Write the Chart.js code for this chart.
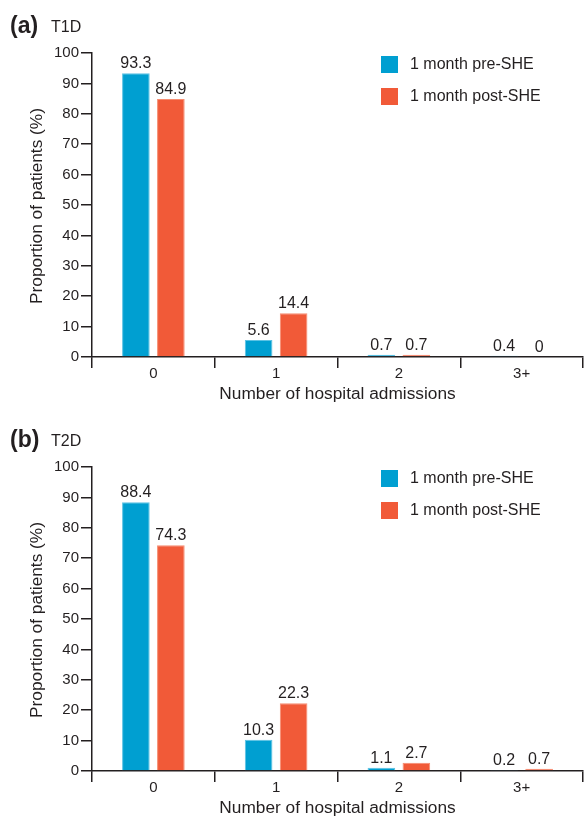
<!DOCTYPE html>
<html>
<head>
<meta charset="utf-8">
<script src="https://cdn.jsdelivr.net/npm/chart.js@4.4.1/dist/chart.umd.min.js"></script>
<style>
  html, body { margin: 0; padding: 0; background: #fff; }
  .panel { position: absolute; left: 0; width: 584px; }
  #p1 { top: 0; height: 414px; }
  #p2 { top: 414px; height: 404px; }
</style>
</head>
<body>
<div class="panel" id="p1"><canvas id="chartA"></canvas></div>
<div class="panel" id="p2"><canvas id="chartB"></canvas></div>
<script>
// data
const categories = ['0', '1', '2', '3+'];
const t1dPre = [93.3, 5.6, 0.7, 0.4];
const t1dPost = [84.9, 14.4, 0.7, 0];
const t2dPre = [88.4, 10.3, 1.1, 0.2];
const t2dPost = [74.3, 22.3, 2.7, 0.7];
const seriesNames = ['1 month pre-SHE', '1 month post-SHE'];

const BLUE = '#009fd1';
const RED = '#f15a38';
const INK = '#231f20';
const FONT = '"Liberation Sans", Arial, Helvetica, sans-serif';

// panel letter, legend, axis titles and value labels
const decorPlugin = {
    id: 'decor',
    afterDatasetsDraw(chart, args, opts) {
        const c = chart.ctx;
        const area = chart.chartArea;
        c.save();
        c.fillStyle = INK;

        // value labels above bars
        c.font = '16px ' + FONT;
        c.textAlign = 'center';
        c.textBaseline = 'alphabetic';
        chart.data.datasets.forEach((ds, i) => {
            chart.getDatasetMeta(i).data.forEach((bar, j) => {
                c.fillText(String(ds.data[j]), bar.x, bar.y - 5);
            });
        });

        // panel letter + group
        c.textAlign = 'left';
        c.font = 'bold 23px ' + FONT;
        c.fillText(opts.letter, 10, area.top - 20);
        c.font = '16px ' + FONT;
        c.fillText(opts.group, 51, area.top - 21);

        // legend
        chart.data.datasets.forEach((ds, i) => {
            const y = area.top + 3 + i * 32;
            c.fillStyle = ds.backgroundColor;
            c.fillRect(381, y, 17, 17);
            c.fillStyle = INK;
            c.font = '16px ' + FONT;
            c.textBaseline = 'middle';
            c.fillText(ds.label, 410, y + 9);
        });

        // x axis title
        c.textAlign = 'center';
        c.textBaseline = 'middle';
        c.font = '17.3px ' + FONT;
        c.fillText('Number of hospital admissions', (area.left + area.right) / 2, area.bottom + 37);

        // y axis title
        c.translate(37, (area.top + area.bottom) / 2 + 1);
        c.rotate(-Math.PI / 2);
        c.fillText('Proportion of patients (%)', 0, 0);
        c.restore();
    }
};

function makeChart(id, pre, post, letter, group, xHeight) {
    return new Chart(document.getElementById(id), {
        type: 'bar',
        data: {
            labels: categories,
            datasets: [
                { label: seriesNames[0], data: pre, backgroundColor: BLUE, borderColor: '#5cc2e4', borderWidth: 1 },
                { label: seriesNames[1], data: post, backgroundColor: RED, borderColor: '#f68c70', borderWidth: 1 }
            ]
        },
        options: {
            responsive: true,
            maintainAspectRatio: false,
            animation: false,
            categoryPercentage: 0.57,
            barPercentage: 0.79,
            layout: { padding: { top: 53, right: 1, left: 0, bottom: 0 } },
            plugins: {
                legend: { display: false },
                tooltip: { enabled: false },
                decor: { letter: letter, group: group }
            },
            scales: {
                x: {
                    afterFit: s => { s.height = xHeight; },
                    grid: { offset: true, drawOnChartArea: false, tickLength: 11, color: INK, lineWidth: 1.5 },
                    border: { color: INK, width: 1.5 },
                    ticks: { color: INK, font: { family: FONT, size: 15 }, padding: -3 }
                },
                y: {
                    min: 0,
                    max: 100,
                    afterFit: s => { s.width = 92; },
                    grid: { drawOnChartArea: false, tickLength: 11, color: INK, lineWidth: 1.5 },
                    border: { color: INK, width: 1.5 },
                    ticks: { stepSize: 10, color: INK, font: { family: FONT, size: 15 }, padding: 2 }
                }
            }
        },
        plugins: [decorPlugin]
    });
}

makeChart('chartA', t1dPre, t1dPost, '(a)', 'T1D', 57);
makeChart('chartB', t2dPre, t2dPost, '(b)', 'T2D', 47);
</script>
</body>
</html>
